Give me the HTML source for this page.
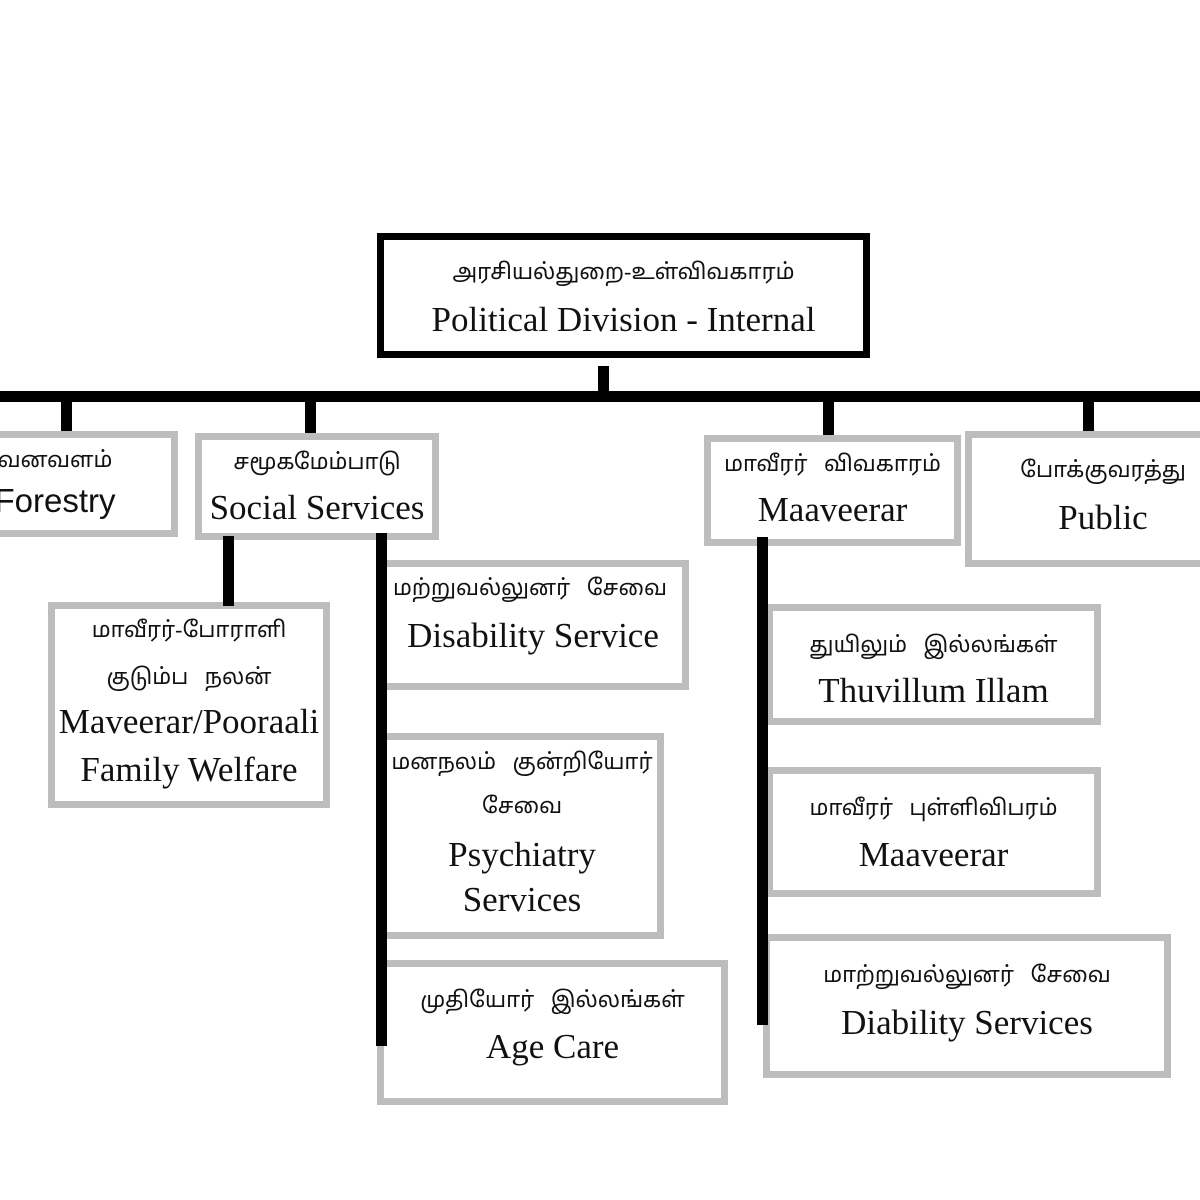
<!DOCTYPE html>
<html><head><meta charset="utf-8"><style>
body{margin:0;width:1200px;height:1200px;background:#fff;position:relative;overflow:hidden}
.b{position:absolute;box-sizing:border-box;border:7px solid #bdbdbd;background:#fff}
.k{position:absolute;background:#000}
.t{position:absolute;text-align:center;white-space:nowrap;font-family:"Liberation Serif","Noto Sans Tamil","Latha",serif;font-size:22px;line-height:30px;color:#111}
.e{position:absolute;text-align:center;white-space:nowrap;font-family:"Liberation Serif",serif;font-size:35px;line-height:40px;color:#111}
</style></head><body>
<div class="b" style="left:377px;top:233px;width:493px;height:125px;border:7px solid #000"></div>
<div class="t" style="left:377px;width:493px;top:257px">அரசியல்துறை-உள்விவகாரம்</div>
<div class="e" style="left:377px;width:493px;top:300px">Political Division - Internal</div>

<div class="k" style="left:0;top:391px;width:1200px;height:11px"></div>
<div class="k" style="left:598px;top:366px;width:11px;height:26px"></div>
<div class="k" style="left:61px;top:400px;width:11px;height:33px"></div>
<div class="k" style="left:305px;top:400px;width:11px;height:36px"></div>
<div class="k" style="left:823px;top:400px;width:11px;height:36px"></div>
<div class="k" style="left:1083px;top:400px;width:11px;height:32px"></div>

<div class="b" style="left:-10px;top:431px;width:188px;height:106px"></div>
<div class="t" style="left:-30px;width:170px;top:445px">வனவளம்</div>
<div class="e" style="left:-30px;width:170px;top:481px;font-family:'Liberation Sans',sans-serif;font-size:33px">Forestry</div>

<div class="b" style="left:195px;top:433px;width:244px;height:107px"></div>
<div class="t" style="left:195px;width:244px;top:447px">சமூகமேம்பாடு</div>
<div class="e" style="left:195px;width:244px;top:488px">Social Services</div>

<div class="b" style="left:704px;top:435px;width:257px;height:111px"></div>
<div class="t" style="left:704px;width:257px;top:449px">மாவீரர்&nbsp;&nbsp; விவகாரம்</div>
<div class="e" style="left:704px;width:257px;top:490px">Maaveerar</div>

<div class="b" style="left:965px;top:431px;width:260px;height:136px"></div>
<div class="t" style="left:965px;width:276px;top:455px">போக்குவரத்து</div>
<div class="e" style="left:965px;width:276px;top:498px">Public</div>

<div class="b" style="left:48px;top:602px;width:282px;height:206px"></div>
<div class="t" style="left:48px;width:282px;top:615px">மாவீரர்-போராளி</div>
<div class="t" style="left:48px;width:282px;top:662px">குடும்ப&nbsp;&nbsp; நலன்</div>
<div class="e" style="left:48px;width:282px;top:702px">Maveerar/Pooraali</div>
<div class="e" style="left:48px;width:282px;top:750px">Family Welfare</div>

<div class="b" style="left:380px;top:560px;width:309px;height:130px"></div>
<div class="t" style="left:380px;width:300px;top:573px">மற்றுவல்லுனர்&nbsp;&nbsp; சேவை</div>
<div class="e" style="left:380px;width:306px;top:616px">Disability Service</div>

<div class="b" style="left:380px;top:733px;width:284px;height:206px"></div>
<div class="t" style="left:380px;width:284px;top:747px">மனநலம்&nbsp;&nbsp; குன்றியோர்</div>
<div class="t" style="left:380px;width:284px;top:791px">சேவை</div>
<div class="e" style="left:380px;width:284px;top:835px">Psychiatry</div>
<div class="e" style="left:380px;width:284px;top:880px">Services</div>

<div class="b" style="left:377px;top:960px;width:351px;height:145px"></div>
<div class="t" style="left:377px;width:351px;top:985px">முதியோர்&nbsp;&nbsp; இல்லங்கள்</div>
<div class="e" style="left:377px;width:351px;top:1027px">Age Care</div>

<div class="b" style="left:766px;top:604px;width:335px;height:121px"></div>
<div class="t" style="left:766px;width:335px;top:630px">துயிலும்&nbsp;&nbsp; இல்லங்கள்</div>
<div class="e" style="left:766px;width:335px;top:671px">Thuvillum Illam</div>

<div class="b" style="left:766px;top:767px;width:335px;height:130px"></div>
<div class="t" style="left:766px;width:335px;top:793px">மாவீரர்&nbsp;&nbsp; புள்ளிவிபரம்</div>
<div class="e" style="left:766px;width:335px;top:835px">Maaveerar</div>

<div class="b" style="left:763px;top:934px;width:408px;height:144px"></div>
<div class="t" style="left:763px;width:408px;top:960px">மாற்றுவல்லுனர்&nbsp;&nbsp; சேவை</div>
<div class="e" style="left:763px;width:408px;top:1003px">Diability Services</div>

<div class="k" style="left:223px;top:536px;width:11px;height:70px"></div>
<div class="k" style="left:376px;top:533px;width:11px;height:513px"></div>
<div class="k" style="left:757px;top:537px;width:11px;height:488px"></div>
</body></html>
